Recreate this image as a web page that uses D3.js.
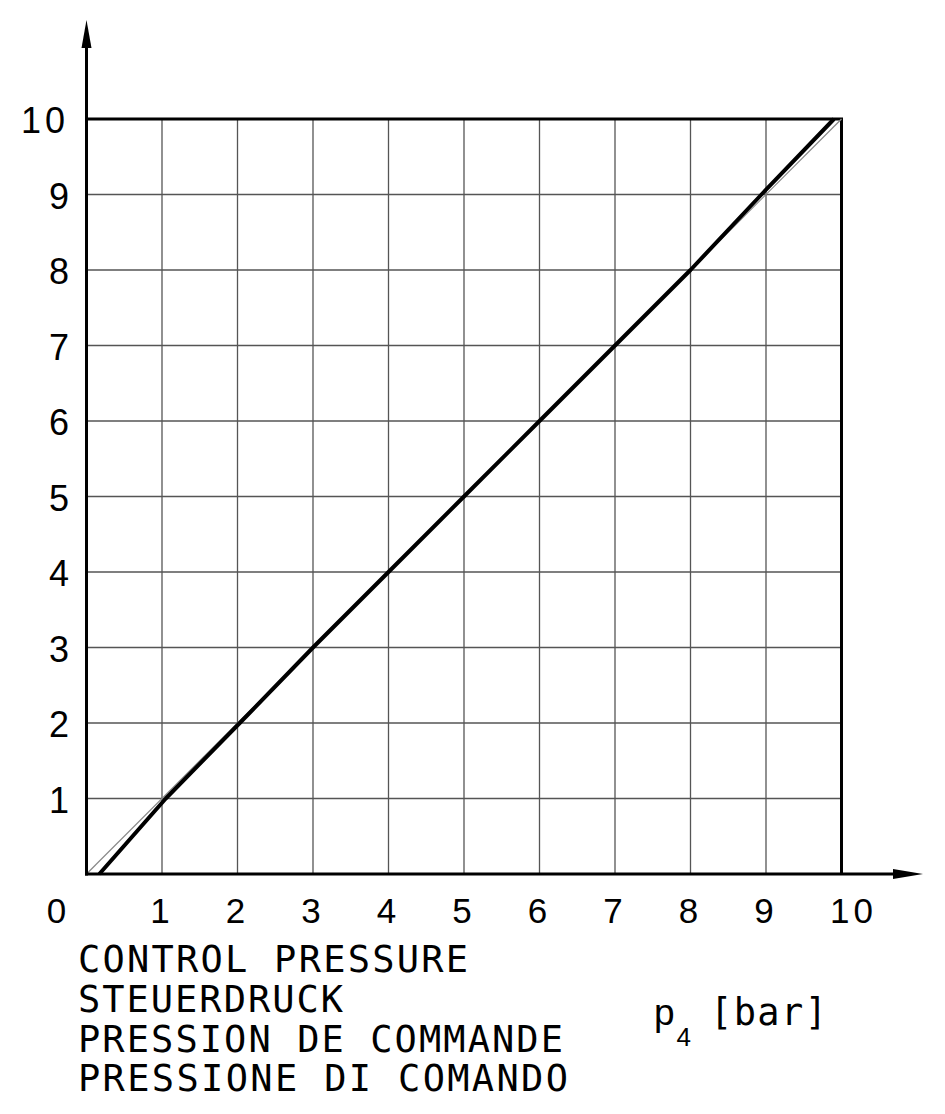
<!DOCTYPE html>
<html><head><meta charset="utf-8">
<script src="https://cdn.jsdelivr.net/npm/d3@7"></script>
<style>
html,body{margin:0;padding:0;background:#fff;}
svg{display:block;}
text{font-family:"Liberation Sans","DejaVu Sans",sans-serif;fill:#000;}
.mono{font-family:"DejaVu Sans Mono","Liberation Mono",monospace;}
</style></head>
<body>
<script>
// ---- data ----
const xTickValues = [0,1,2,3,4,5,6,7,8,9,10];
const yTickValues = [1,2,3,4,5,6,7,8,9,10];
const xTickLabels = ["0","1","2","3","4","5","6","7","8","9","10"];
const yTickLabels = ["1","2","3","4","5","6","7","8","9","10"];
// thick measured characteristic
const curveX = [0.17, 1.05, 2.03, 3.0, 4.0, 5.0, 6.0, 7.0, 8.0, 8.94, 9.9];
const curveY = [0, 1, 2, 3, 4, 5, 6, 7, 8, 9, 10];
// thin reference line
const refX = [0, 10];
const refY = [0, 10];
const titleLines = ["CONTROL PRESSURE","STEUERDRUCK","PRESSION DE COMMANDE","PRESSIONE DI COMANDO"];
const titleWidths = [390, 265, 485, 490];

const W = 945, H = 1114;
const svg = d3.select("body").append("svg").attr("width",W).attr("height",H);

const x = d3.scaleLinear().domain([0,10]).range([86.5, 841.5]);
const y = d3.scaleLinear().domain([0,10]).range([874, 119]);

// grid
const g = svg.append("g");
g.selectAll("line.vg").data(xTickValues.slice(1,10)).enter().append("line")
  .attr("x1",d=>x(d)).attr("x2",d=>x(d)).attr("y1",y(0)).attr("y2",y(10))
  .attr("stroke","#555").attr("stroke-width",1.3);
g.selectAll("line.hg").data(yTickValues.slice(0,9)).enter().append("line")
  .attr("y1",d=>y(d)).attr("y2",d=>y(d)).attr("x1",x(0)).attr("x2",x(10))
  .attr("stroke","#555").attr("stroke-width",1.3);

// frame top and right
svg.append("line").attr("x1",x(0)).attr("x2",x(10)+1.5).attr("y1",y(10)).attr("y2",y(10))
  .attr("stroke","#000").attr("stroke-width",3);
svg.append("line").attr("x1",x(10)).attr("x2",x(10)).attr("y1",y(10)).attr("y2",y(0))
  .attr("stroke","#000").attr("stroke-width",3);

// reference thin line
const line = d3.line().x(d=>x(d[0])).y(d=>y(d[1]));
svg.append("path").datum(refX.map((v,i)=>[v,refY[i]])).attr("d",line)
  .attr("fill","none").attr("stroke","#888").attr("stroke-width",1.2);

// thick curve
svg.append("path").datum(curveX.map((v,i)=>[v,curveY[i]])).attr("d",line)
  .attr("fill","none").attr("stroke","#000").attr("stroke-width",4).attr("stroke-linejoin","round");

// axes
svg.append("line").attr("x1",x(0)).attr("x2",x(0)).attr("y1",y(0)+1.5).attr("y2",45)
  .attr("stroke","#000").attr("stroke-width",3);
svg.append("line").attr("x1",x(0)-1.5).attr("x2",900).attr("y1",y(0)).attr("y2",y(0))
  .attr("stroke","#000").attr("stroke-width",3);
// arrowheads
svg.append("path").attr("d",`M${x(0)},20 L${x(0)-5},48 L${x(0)+5},48 Z`).attr("fill","#000");
svg.append("path").attr("d",`M923,${y(0)} L893,${y(0)-5} L893,${y(0)+5} Z`).attr("fill","#000");

// x tick labels
const xOff = {0:-30, 10:12};
svg.selectAll("text.xl").data(xTickValues).enter().append("text")
  .attr("x",d=>x(d)+(xOff[d]!==undefined?xOff[d]:-2))
  .attr("y",923).attr("text-anchor","middle").attr("font-size",35)
  .attr("letter-spacing",d=>d===10?4:0)
  .text((d,i)=>xTickLabels[i]);

// y tick labels
svg.selectAll("text.yl").data(yTickValues).enter().append("text")
  .attr("x",69).attr("y",d=>y(d)+14).attr("text-anchor","end").attr("font-size",36)
  .attr("letter-spacing",d=>d===10?4:0)
  .text((d,i)=>yTickLabels[i]);

// title lines
const baselines = [972, 1012, 1052, 1091];
svg.selectAll("text.tl").data(titleLines).enter().append("text")
  .attr("class","mono")
  .attr("x",78).attr("y",(d,i)=>baselines[i]).attr("font-size",37)
  .attr("textLength",(d,i)=>titleWidths[i]).attr("lengthAdjust","spacing")
  .text(d=>d);

// unit label
const u = svg.append("text").attr("x",654).attr("y",1025).attr("font-size",37);
u.append("tspan").text("p");
u.append("tspan").attr("font-size",26).attr("dy",21).attr("dx",2).text("4");
svg.append("text").attr("class","mono").attr("x",710).attr("y",1025).attr("font-size",37)
  .attr("textLength",117).attr("lengthAdjust","spacing").text("[bar]");
</script>
</body></html>
